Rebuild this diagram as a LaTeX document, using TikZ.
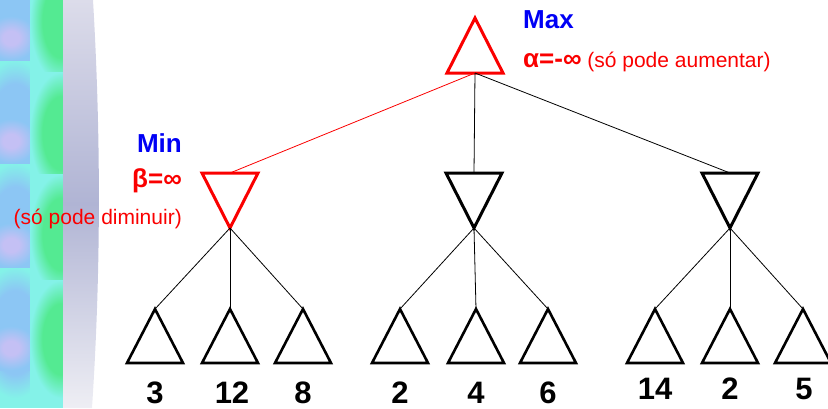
\documentclass[tikz,border=0pt]{standalone}
\usepackage{fontspec}
\setmainfont{Liberation Sans}
\usepackage{xcolor}
\usetikzlibrary{shapes.geometric}

\definecolor{maxblue}{RGB}{0,0,245}
\definecolor{hotred}{RGB}{250,0,0}
\definecolor{stripcyan}{RGB}{132,242,232}
\definecolor{stripblue}{RGB}{140,198,244}
\definecolor{striplav}{RGB}{196,192,244}
\definecolor{stripgreen}{RGB}{84,234,146}
\definecolor{bandtop}{RGB}{220,220,234}
\definecolor{bandmid}{RGB}{176,180,212}
\definecolor{bandbot}{RGB}{238,238,244}

\pgfdeclareradialshading{greenblob}{\pgfpointorigin}{color(0bp)=(stripgreen); color(15bp)=(stripgreen); color(25bp)=(stripcyan); color(50bp)=(stripcyan)}
\pgfdeclareradialshading{blueblob}{\pgfpointorigin}{color(0bp)=(stripblue); color(16bp)=(stripblue); color(25bp)=(stripcyan); color(50bp)=(stripcyan)}
\pgfdeclareradialshading{lavblob}{\pgfpointorigin}{color(0bp)=(striplav); color(8bp)=(striplav); color(25bp)=(stripblue); color(50bp)=(stripblue)}

\begin{document}
\begin{tikzpicture}[
  x=1pt, y=-1pt,
  maxtri/.style={draw, isosceles triangle, isosceles triangle stretches, shape border rotate=90,
    minimum width=56pt, minimum height=55pt, inner sep=0pt, outer sep=0pt, line width=3pt},
  mintri/.style={maxtri, shape border rotate=270},
  leaf/.style={maxtri, minimum height=54pt, line width=2.6pt},
  link/.style={line width=0.8pt},
  turn/.style={font=\fontsize{26}{30}\selectfont\bfseries, text=maxblue, inner sep=0pt},
  hint/.style={font=\fontsize{21}{25}\selectfont, text=hotred, inner sep=0pt},
  val/.style={font=\fontsize{31}{36}\selectfont\bfseries, inner sep=0pt, anchor=base}
]
\useasboundingbox (0,0) rectangle (828,408);
% slide background strip
\begin{scope}
\clip (0,0) rectangle (63,408);
\fill[stripcyan] (0,0) rectangle (63,408);
\shade[shading=blueblob] (-24,-45) rectangle (54,85);
\shade[shading=blueblob] (-24,60) rectangle (54,192);
\shade[shading=blueblob] (-24,163) rectangle (54,295);
\shade[shading=blueblob] (-24,267) rectangle (54,398);
\shade[shading=lavblob] (-14,16) rectangle (36,60);
\shade[shading=lavblob] (-14,119) rectangle (36,163);
\shade[shading=lavblob] (-14,223) rectangle (36,267);
\shade[shading=lavblob] (-14,326) rectangle (36,370);
\shade[shading=greenblob] (30,-40) rectangle (92,82);
\shade[shading=greenblob] (30,72) rectangle (92,194);
\shade[shading=greenblob] (30,174) rectangle (92,294);
\shade[shading=greenblob] (30,280) rectangle (92,398);
\end{scope}
\shade[top color=bandtop, bottom color=bandbot, middle color=bandmid]
  (63,0) -- (93,0) .. controls (101,136) and (101,272) .. (92,408) -- (63,408) -- cycle;

% tree
\node[maxtri, draw=hotred, anchor=apex] (root) at (475,18) {};
\node[mintri, draw=hotred, anchor=apex] (minA) at (230,228) {};
\node[mintri, anchor=apex] (minB) at (474,228) {};
\node[mintri, anchor=apex] (minC) at (730,228) {};

\node[leaf, anchor=apex] (a1) at (155,309) {};
\node[leaf, anchor=apex] (a2) at (230,309) {};
\node[leaf, anchor=apex] (a3) at (303,309) {};
\node[leaf, anchor=apex] (b1) at (400,309) {};
\node[leaf, anchor=apex] (b2) at (476,309) {};
\node[leaf, anchor=apex] (b3) at (548,309) {};
\node[leaf, anchor=apex] (c1) at (655,309) {};
\node[leaf, anchor=apex] (c2) at (730,309) {};
\node[leaf, anchor=apex] (c3) at (803,309) {};

\draw[link, hotred] (root.lower side) -- (minA.lower side);
\draw[link] (root.lower side) -- (minB.lower side);
\draw[link] (root.lower side) -- (minC.lower side);
\draw[link] (minA.apex) -- (a1.apex);
\draw[link] (minA.apex) -- (a2.apex);
\draw[link] (minA.apex) -- (a3.apex);
\draw[link] (minB.apex) -- (b1.apex);
\draw[link] (minB.apex) -- (b2.apex);
\draw[link] (minB.apex) -- (b3.apex);
\draw[link] (minC.apex) -- (c1.apex);
\draw[link] (minC.apex) -- (c2.apex);
\draw[link] (minC.apex) -- (c3.apex);

% leaf values
\node[val] (v1) at (155,403) {3};
\node[val] (v2) at (232,403) {12};
\node[val] (v3) at (303,403) {8};
\node[val] (v4) at (400,403) {2};
\node[val] (v5) at (476,403) {4};
\node[val] (v6) at (548,403) {6};
\node[val] (v7) at (655,399) {14};
\node[val] (v8) at (730,399) {2};
\node[val] (v9) at (804,399) {5};

% labels
\node[turn, anchor=base west] (maxlbl) at (523,28) {Max};
\node[hint, anchor=base west] (alphalbl) at (523,67) {{\fontsize{26}{30}\selectfont\bfseries α=-∞} (só pode aumentar)};
\node[turn, anchor=base east] (minlbl) at (182,152) {Min};
\node[hint, anchor=base east, font=\fontsize{26}{30}\selectfont\bfseries] (betalbl) at (182,187) {β=∞};
\node[hint, anchor=base east] (dimlbl) at (182,224) {(só pode diminuir)};
\end{tikzpicture}
\end{document}
